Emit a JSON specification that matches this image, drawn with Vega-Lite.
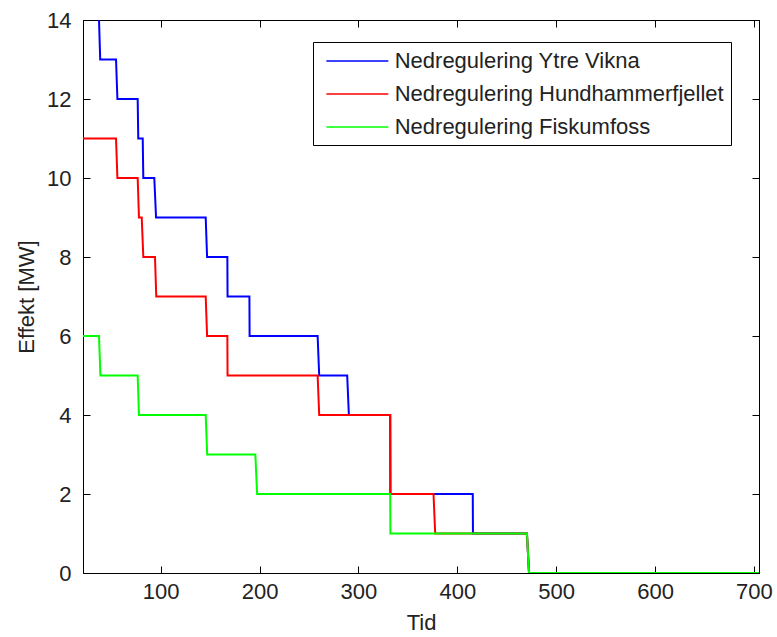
{
  "$schema": "https://vega.github.io/schema/vega-lite/v6.json",
  "width": 676,
  "height": 553,
  "autosize": {"type": "none"},
  "padding": {"left": 83, "top": 20, "right": 18, "bottom": 64},
  "background": "white",
  "config": {
    "font": "Liberation Sans",
    "view": {"stroke": "black", "strokeWidth": 1},
    "axis": {
      "domainColor": "black",
      "tickColor": "black",
      "labelColor": "#222",
      "titleColor": "#222",
      "labelFontSize": 22,
      "titleFontSize": 22,
      "titleFontWeight": "normal",
      "labelFont": "Liberation Sans",
      "titleFont": "Liberation Sans",
      "grid": false,
      "tickSize": -7,
      "tickWidth": 1
    }
  },
  "data": {
    "values": [
      {"s": "Nedregulering Ytre Vikna", "i": 1, "t": 37.6, "v": 14},
      {"s": "Nedregulering Ytre Vikna", "i": 2, "t": 38.8, "v": 13},
      {"s": "Nedregulering Ytre Vikna", "i": 3, "t": 54.8, "v": 13},
      {"s": "Nedregulering Ytre Vikna", "i": 4, "t": 56.2, "v": 12},
      {"s": "Nedregulering Ytre Vikna", "i": 5, "t": 76.7, "v": 12},
      {"s": "Nedregulering Ytre Vikna", "i": 6, "t": 77.3, "v": 11},
      {"s": "Nedregulering Ytre Vikna", "i": 7, "t": 81.8, "v": 11},
      {"s": "Nedregulering Ytre Vikna", "i": 8, "t": 82.4, "v": 10},
      {"s": "Nedregulering Ytre Vikna", "i": 9, "t": 93.5, "v": 10},
      {"s": "Nedregulering Ytre Vikna", "i": 10, "t": 95.3, "v": 9},
      {"s": "Nedregulering Ytre Vikna", "i": 11, "t": 145.5, "v": 9},
      {"s": "Nedregulering Ytre Vikna", "i": 12, "t": 146.9, "v": 8},
      {"s": "Nedregulering Ytre Vikna", "i": 13, "t": 167.4, "v": 8},
      {"s": "Nedregulering Ytre Vikna", "i": 14, "t": 167.6, "v": 7},
      {"s": "Nedregulering Ytre Vikna", "i": 15, "t": 189.7, "v": 7},
      {"s": "Nedregulering Ytre Vikna", "i": 16, "t": 189.9, "v": 6},
      {"s": "Nedregulering Ytre Vikna", "i": 17, "t": 258.7, "v": 6},
      {"s": "Nedregulering Ytre Vikna", "i": 18, "t": 260.3, "v": 5},
      {"s": "Nedregulering Ytre Vikna", "i": 19, "t": 288.6, "v": 5},
      {"s": "Nedregulering Ytre Vikna", "i": 20, "t": 290.3, "v": 4},
      {"s": "Nedregulering Ytre Vikna", "i": 21, "t": 332.1, "v": 4},
      {"s": "Nedregulering Ytre Vikna", "i": 22, "t": 332.3, "v": 2},
      {"s": "Nedregulering Ytre Vikna", "i": 23, "t": 415.6, "v": 2},
      {"s": "Nedregulering Ytre Vikna", "i": 24, "t": 415.8, "v": 1},
      {"s": "Nedregulering Ytre Vikna", "i": 25, "t": 470.4, "v": 1},
      {"s": "Nedregulering Ytre Vikna", "i": 26, "t": 472.5, "v": 0},
      {"s": "Nedregulering Ytre Vikna", "i": 27, "t": 705.1, "v": 0},
      {"s": "Nedregulering Hundhammerfjellet", "i": 1, "t": 21.4, "v": 11},
      {"s": "Nedregulering Hundhammerfjellet", "i": 2, "t": 54.8, "v": 11},
      {"s": "Nedregulering Hundhammerfjellet", "i": 3, "t": 56.2, "v": 10},
      {"s": "Nedregulering Hundhammerfjellet", "i": 4, "t": 76.7, "v": 10},
      {"s": "Nedregulering Hundhammerfjellet", "i": 5, "t": 78.0, "v": 9},
      {"s": "Nedregulering Hundhammerfjellet", "i": 6, "t": 80.8, "v": 9},
      {"s": "Nedregulering Hundhammerfjellet", "i": 7, "t": 82.4, "v": 8},
      {"s": "Nedregulering Hundhammerfjellet", "i": 8, "t": 94.2, "v": 8},
      {"s": "Nedregulering Hundhammerfjellet", "i": 9, "t": 95.5, "v": 7},
      {"s": "Nedregulering Hundhammerfjellet", "i": 10, "t": 145.5, "v": 7},
      {"s": "Nedregulering Hundhammerfjellet", "i": 11, "t": 146.9, "v": 6},
      {"s": "Nedregulering Hundhammerfjellet", "i": 12, "t": 167.4, "v": 6},
      {"s": "Nedregulering Hundhammerfjellet", "i": 13, "t": 167.6, "v": 5},
      {"s": "Nedregulering Hundhammerfjellet", "i": 14, "t": 258.7, "v": 5},
      {"s": "Nedregulering Hundhammerfjellet", "i": 15, "t": 260.3, "v": 4},
      {"s": "Nedregulering Hundhammerfjellet", "i": 16, "t": 332.1, "v": 4},
      {"s": "Nedregulering Hundhammerfjellet", "i": 17, "t": 332.3, "v": 2},
      {"s": "Nedregulering Hundhammerfjellet", "i": 18, "t": 375.9, "v": 2},
      {"s": "Nedregulering Hundhammerfjellet", "i": 19, "t": 377.6, "v": 1},
      {"s": "Nedregulering Hundhammerfjellet", "i": 20, "t": 470.4, "v": 1},
      {"s": "Nedregulering Hundhammerfjellet", "i": 21, "t": 472.5, "v": 0},
      {"s": "Nedregulering Hundhammerfjellet", "i": 22, "t": 705.1, "v": 0},
      {"s": "Nedregulering Fiskumfoss", "i": 1, "t": 21.4, "v": 6},
      {"s": "Nedregulering Fiskumfoss", "i": 2, "t": 37.6, "v": 6},
      {"s": "Nedregulering Fiskumfoss", "i": 3, "t": 39.0, "v": 5},
      {"s": "Nedregulering Fiskumfoss", "i": 4, "t": 76.7, "v": 5},
      {"s": "Nedregulering Fiskumfoss", "i": 5, "t": 78.0, "v": 4},
      {"s": "Nedregulering Fiskumfoss", "i": 6, "t": 145.5, "v": 4},
      {"s": "Nedregulering Fiskumfoss", "i": 7, "t": 147.0, "v": 3},
      {"s": "Nedregulering Fiskumfoss", "i": 8, "t": 195.7, "v": 3},
      {"s": "Nedregulering Fiskumfoss", "i": 9, "t": 197.5, "v": 2},
      {"s": "Nedregulering Fiskumfoss", "i": 10, "t": 332.1, "v": 2},
      {"s": "Nedregulering Fiskumfoss", "i": 11, "t": 332.3, "v": 1},
      {"s": "Nedregulering Fiskumfoss", "i": 12, "t": 470.4, "v": 1},
      {"s": "Nedregulering Fiskumfoss", "i": 13, "t": 472.5, "v": 0},
      {"s": "Nedregulering Fiskumfoss", "i": 14, "t": 705.1, "v": 0}
    ]
  },
  "layer": [
    {
      "encoding": {
        "x": {
          "field": "t", "type": "quantitative",
          "scale": {"domain": [21.4, 705.1], "nice": false, "zero": false},
          "axis": {"title": "Tid", "values": [100, 200, 300, 400, 500, 600, 700], "labelPadding": 15, "titlePadding": 10, "labelFlush": false}
        },
        "y": {
          "field": "v", "type": "quantitative",
          "scale": {"domain": [0, 14], "nice": false, "zero": false},
          "axis": {"title": "Effekt [MW]", "values": [0, 2, 4, 6, 8, 10, 12, 14], "labelPadding": 19, "titlePadding": 8, "labelFlush": false}
        },
        "color": {
          "field": "s", "type": "nominal",
          "scale": {
            "domain": ["Nedregulering Ytre Vikna", "Nedregulering Hundhammerfjellet", "Nedregulering Fiskumfoss"],
            "range": ["#0000ff", "#ff0000", "#00ff00"]
          },
          "legend": {
            "title": null,
            "orient": "none",
            "legendX": 230,
            "legendY": 22,
            "direction": "vertical",
            "padding": 7,
            "strokeColor": "black",
            "fillColor": "white",
            "cornerRadius": 0,
            "symbolType": "M-0.51,0H5.12",
            "symbolSize": 484,
            "symbolStrokeWidth": 1.3,
            "labelFontSize": 22,
            "labelFont": "Liberation Sans",
            "labelColor": "#222",
            "labelOffset": 50.7,
            "labelLimit": 600,
            "rowPadding": 10
          }
        },
        "order": {"field": "i", "type": "quantitative"}
      },
      "layer": [
        {
          "transform": [{"filter": {"field": "s", "equal": "Nedregulering Ytre Vikna"}}],
          "mark": {"type": "line", "strokeWidth": 2, "clip": true}
        },
        {
          "transform": [{"filter": {"field": "s", "equal": "Nedregulering Hundhammerfjellet"}}],
          "mark": {"type": "line", "strokeWidth": 2, "clip": true}
        },
        {
          "transform": [{"filter": {"field": "s", "equal": "Nedregulering Fiskumfoss"}}],
          "mark": {"type": "line", "strokeWidth": 2, "clip": true}
        }
      ]
    },
    {
      "mark": {"type": "line", "opacity": 0},
      "encoding": {
        "x": {
          "field": "t", "type": "quantitative",
          "axis": {"orient": "top", "title": null, "labels": false, "values": [100, 200, 300, 400, 500, 600, 700]}
        },
        "y": {
          "field": "v", "type": "quantitative",
          "axis": {"orient": "right", "title": null, "labels": false, "values": [0, 2, 4, 6, 8, 10, 12, 14]}
        }
      }
    }
  ],
  "resolve": {"axis": {"x": "independent", "y": "independent"}}
}
